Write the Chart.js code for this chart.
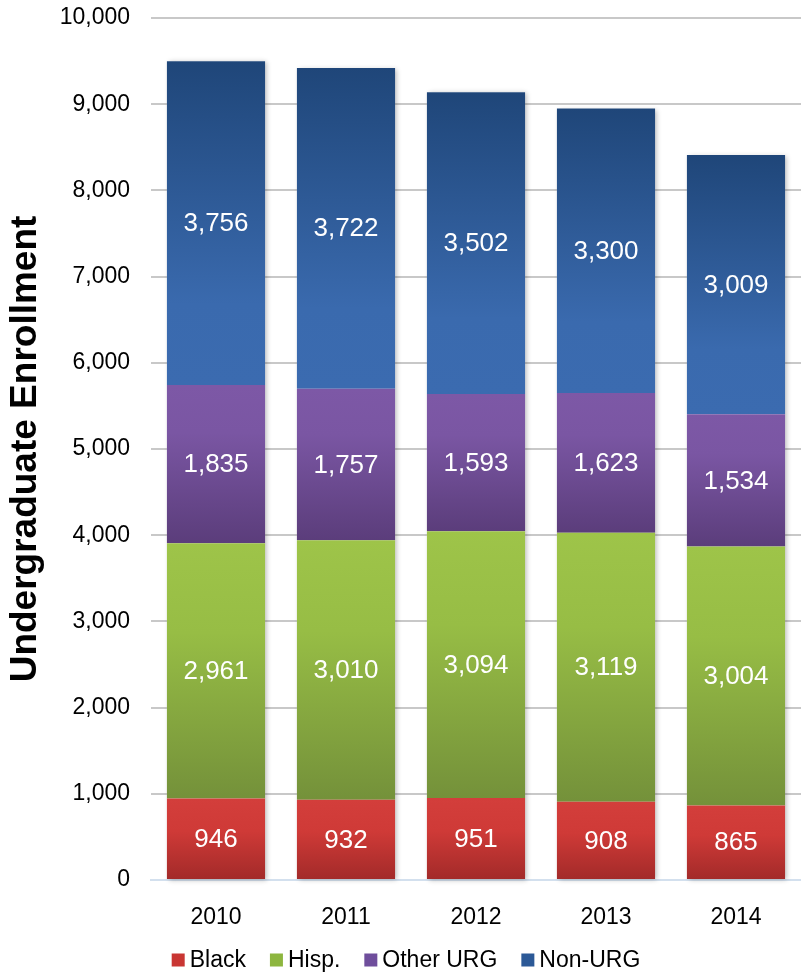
<!DOCTYPE html>
<html>
<head>
<meta charset="utf-8">
<script src="https://cdn.jsdelivr.net/npm/chart.js@4"></script>
<style>
  html, body { margin: 0; padding: 0; background: #ffffff; }
  #wrap { width: 801px; height: 975px; }
</style>
</head>
<body>
<div id="wrap"><canvas id="chart"></canvas></div>
<script>
// Datos
var anios = ["2010", "2011", "2012", "2013", "2014"];
var black = [946, 932, 951, 908, 865];
var hisp = [2961, 3010, 3094, 3119, 3004];
var otherUrg = [1835, 1757, 1593, 1623, 1534];
var nonUrg = [3756, 3722, 3502, 3300, 3009];
var series = [black, hisp, otherUrg, nonUrg];
var nombres = ["Black", "Hisp.", "Other URG", "Non-URG"];

// Colores: degradado de arriba a abajo de cada segmento, y color plano para la leyenda
var degradados = [
    [[0, "#d33e3b"], [0.4, "#cf3a37"], [1, "#a22a29"]],
    [[0, "#9ec449"], [0.35, "#97bd45"], [1, "#74913a"]],
    [[0, "#7d58a6"], [0.3, "#7a56a3"], [1, "#5b3d7b"]],
    [[0, "#1f4679"], [0.75, "#3a6aae"], [1, "#3b6bb0"]]
];
var coloresLeyenda = ["#c93633", "#8db63f", "#6f4e9c", "#2c5997"];

var fuente = "'Liberation Sans', Arial, sans-serif";

function colorSegmento(ctx) {
    var ds = ctx.datasetIndex;
    if (ctx.type !== "data" || !ctx.chart.chartArea) return coloresLeyenda[ds];
    var y = ctx.chart.scales.y;
    var base = 0;
    for (var i = 0; i < ds; i++) base += series[i][ctx.dataIndex];
    var tope = base + series[ds][ctx.dataIndex];
    var g = ctx.chart.ctx.createLinearGradient(0, y.getPixelForValue(tope), 0, y.getPixelForValue(base));
    degradados[ds].forEach(function (s) { g.addColorStop(s[0], s[1]); });
    return g;
}

// Sombra detrás de cada columna, etiquetas de valor y leyenda inferior
var sombraYEtiquetas = {
    id: "sombraYEtiquetas",
    beforeDatasetsDraw: function (chart) {
        var c = chart.ctx;
        var primero = chart.getDatasetMeta(0).data;
        var ultimo = chart.getDatasetMeta(series.length - 1).data;
        c.save();
        c.shadowColor = "rgba(0,0,0,0.28)";
        c.shadowBlur = 5;
        c.shadowOffsetX = 2;
        c.shadowOffsetY = 1;
        c.fillStyle = "#ffffff";
        primero.forEach(function (bar, i) {
            var top = ultimo[i].y;
            c.fillRect(bar.x - bar.width / 2, top, bar.width, bar.base - top);
        });
        c.restore();
    },
    afterDatasetsDraw: function (chart) {
        var c = chart.ctx;
        c.save();
        c.fillStyle = "#ffffff";
        c.font = "26px " + fuente;
        c.textAlign = "center";
        c.textBaseline = "middle";
        chart.data.datasets.forEach(function (ds, d) {
            chart.getDatasetMeta(d).data.forEach(function (bar, i) {
                c.fillText(ds.data[i].toLocaleString("en-US"), bar.x, (bar.y + bar.base) / 2 + 1);
            });
        });
        c.restore();
    },
    afterDraw: function (chart) {
        var c = chart.ctx;
        var caja = 13, hueco = 5, separacion = 24, yLeyenda = 960;
        c.save();
        c.font = "23px " + fuente;
        c.textBaseline = "middle";
        var anchos = chart.data.datasets.map(function (ds) { return caja + hueco + c.measureText(ds.label).width; });
        var total = anchos.reduce(function (a, b) { return a + b; }, 0) + separacion * (anchos.length - 1);
        var x = 406 - total / 2;
        chart.data.datasets.forEach(function (ds, i) {
            c.fillStyle = coloresLeyenda[i];
            c.fillRect(x, yLeyenda - caja / 2, caja, caja);
            c.fillStyle = "#000000";
            c.fillText(ds.label, x + caja + hueco, yLeyenda + 1);
            x += anchos[i] + separacion;
        });
        c.restore();
    }
};

var ctx = document.getElementById("chart").getContext("2d");
var chart = new Chart(ctx, {
    type: "bar",
    data: {
        labels: anios,
        datasets: series.map(function (datos, i) {
            return {
                label: nombres[i],
                data: datos,
                backgroundColor: colorSegmento,
                borderWidth: 0,
                categoryPercentage: 0.755,
                barPercentage: 1
            };
        })
    },
    options: {
        responsive: true,
        maintainAspectRatio: false,
        animation: false,
        layout: { padding: { top: 18, right: 0, left: 0, bottom: 45 } },
        scales: {
            x: {
                stacked: true,
                grid: { display: false },
                border: { display: true, color: "#d3e0ee", width: 2 },
                ticks: { color: "#000000", font: { family: fuente, size: 23 }, padding: 16 },
                afterFit: function (scale) { scale.height = 50; }
            },
            y: {
                stacked: true,
                min: 0,
                max: 10000,
                ticks: {
                    stepSize: 1000,
                    color: "#000000",
                    font: { family: fuente, size: 23 },
                    padding: 21,
                    callback: function (v) { return v.toLocaleString("en-US"); }
                },
                grid: { color: "#c8c8c8", lineWidth: 2, drawTicks: false },
                border: { display: false },
                title: {
                    display: true,
                    text: "Undergraduate Enrollment",
                    color: "#000000",
                    font: { family: fuente, size: 37, weight: "bold" },
                    padding: { top: 4, bottom: 0 }
                },
                afterFit: function (scale) {
                    scale.width = 151;
                    scale.paddingTop = 0;
                    scale.paddingBottom = 0;
                }
            }
        },
        plugins: {
            tooltip: { enabled: false },
            legend: { display: false }
        }
    },
    plugins: [sombraYEtiquetas]
});
</script>
</body>
</html>
